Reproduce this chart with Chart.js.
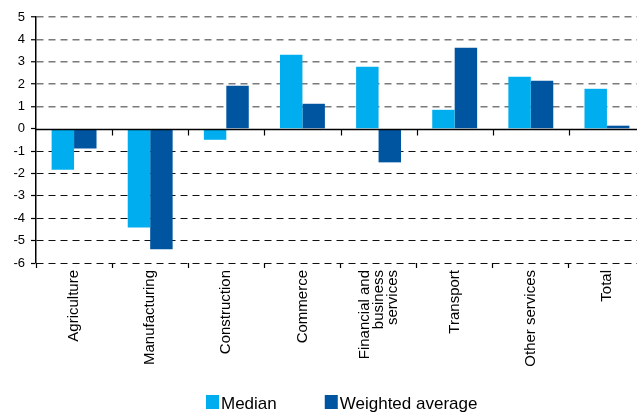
<!DOCTYPE html>
<html>
<head>
<meta charset="utf-8">
<script src="https://cdn.jsdelivr.net/npm/chart.js@4.4.1/dist/chart.umd.min.js"></script>
<style>
  html, body { margin: 0; padding: 0; background: #fff; overflow: hidden; }
  #wrap { position: absolute; left: 0; top: 0; width: 645px; height: 412px; }
</style>
</head>
<body>
<div id="wrap"><canvas id="c" width="645" height="412"></canvas></div>
<script>
// Sectors (multi-line labels are arrays)
const categories = [
  'Agriculture', 'Manufacturing', 'Construction', 'Commerce',
  ['Financial and', 'business', 'services'], 'Transport', 'Other services', 'Total'
];
const seriesNames = ['Median', 'Weighted average'];
const medianValues   = [-1.83, -4.41, -0.49, 3.31, 2.78, 0.85, 2.33, 1.79];
const weightedValues = [-0.88, -5.38, 1.93, 1.12, -1.50, 3.63, 2.15, 0.14];
const yTicks = [5, 4, 3, 2, 1, 0, -1, -2, -3, -4, -5, -6];

const FONT = "'Liberation Sans', Arial, sans-serif";
const LIGHT = '#00aeef';
const DARK = '#0055a0';

// Solid zero line with downward tick marks between categories
const zeroAxis = {
  id: 'zeroAxis',
  afterDatasetsDraw(chart) {
    const { ctx, chartArea, scales: { x, y } } = chart;
    const y0 = Math.round(y.getPixelForValue(0)) + 0.5;
    ctx.save();
    ctx.strokeStyle = '#000';
    ctx.lineWidth = 1.5;
    ctx.beginPath();
    ctx.moveTo(chartArea.left, y0);
    ctx.lineTo(chartArea.right, y0);
    ctx.stroke();
    ctx.lineWidth = 1.2;
    const n = chart.data.labels.length;
    for (let i = 0; i < n - 1; i++) {
      const bx = Math.round((x.getPixelForValue(i) + x.getPixelForValue(i + 1)) / 2) + 0.5;
      ctx.beginPath();
      ctx.moveTo(bx, y0);
      ctx.lineTo(bx, y0 + 6);
      ctx.stroke();
    }
    ctx.restore();
  }
};

// Vertical category labels, multi-line blocks centred on their category
const categoryLabels = {
  id: 'categoryLabels',
  afterDraw(chart) {
    const { ctx, chartArea, scales: { x } } = chart;
    const lh = 14;
    const top = chartArea.bottom + 7;
    ctx.save();
    ctx.font = '15px ' + FONT;
    ctx.fillStyle = '#000';
    ctx.textAlign = 'right';
    ctx.textBaseline = 'middle';
    chart.data.labels.forEach((lab, i) => {
      const lines = Array.isArray(lab) ? lab : [lab];
      const px = x.getPixelForValue(i);
      lines.forEach((line, j) => {
        const cx = px + (j - (lines.length - 1) / 2) * lh;
        ctx.save();
        ctx.translate(cx, top);
        ctx.rotate(-Math.PI / 2);
        ctx.fillText(line, 0, 0);
        ctx.restore();
      });
    });
    ctx.restore();
  }
};

// Legend row at the bottom
const bottomLegend = {
  id: 'bottomLegend',
  afterDraw(chart) {
    const { ctx } = chart;
    ctx.save();
    ctx.font = '17px ' + FONT;
    ctx.textBaseline = 'alphabetic';
    ctx.textAlign = 'left';
    let cx = 206;
    chart.data.datasets.forEach(ds => {
      ctx.fillStyle = ds.backgroundColor;
      ctx.fillRect(cx, 395, 13, 14);
      ctx.fillStyle = '#000';
      ctx.fillText(ds.label, cx + 15, 409);
      cx += 15 + ctx.measureText(ds.label).width + 48;
    });
    ctx.restore();
  }
};

new Chart(document.getElementById('c'), {
  type: 'bar',
  data: {
    labels: categories,
    datasets: [
      { label: seriesNames[0], data: medianValues, backgroundColor: LIGHT },
      { label: seriesNames[1], data: weightedValues, backgroundColor: DARK }
    ]
  },
  options: {
    responsive: false,
    animation: false,
    devicePixelRatio: 1,
    layout: { padding: { top: 17, right: 0, left: 0, bottom: 0 } },
    datasets: { bar: { categoryPercentage: 0.59, barPercentage: 1.0 } },
    plugins: { legend: { display: false }, tooltip: { enabled: false } },
    scales: {
      x: {
        offset: true,
        afterFit(s) { s.height = 149; },
        grid: {
          offset: true,
          drawOnChartArea: false,
          drawTicks: true,
          tickLength: 5,
          tickColor: '#000',
          tickWidth: 1.2
        },
        border: { display: false },
        ticks: { display: false, autoSkip: false }
      },
      y: {
        min: -6,
        max: 5,
        afterFit(s) { s.width = 36; },
        afterBuildTicks(s) { s.ticks = yTicks.map(v => ({ value: v })); },
        grid: {
          drawTicks: true,
          tickLength: 5,
          tickColor: '#000',
          tickWidth: 1.2,
          color: ctx => ctx.tick.value === 0 ? 'rgba(0,0,0,0)' : (ctx.tick.value > 0 ? '#7a7a7a' : '#111'),
          lineWidth: ctx => ctx.tick.value > 0 ? 1.5 : 1
        },
        border: { display: true, color: '#000', width: 1.5, dash: [7, 5] },
        ticks: {
          padding: 6,
          color: '#000',
          font: { family: FONT, size: 13 },
          callback: v => String(v)
        }
      }
    }
  },
  plugins: [zeroAxis, categoryLabels, bottomLegend]
});
</script>
</body>
</html>
